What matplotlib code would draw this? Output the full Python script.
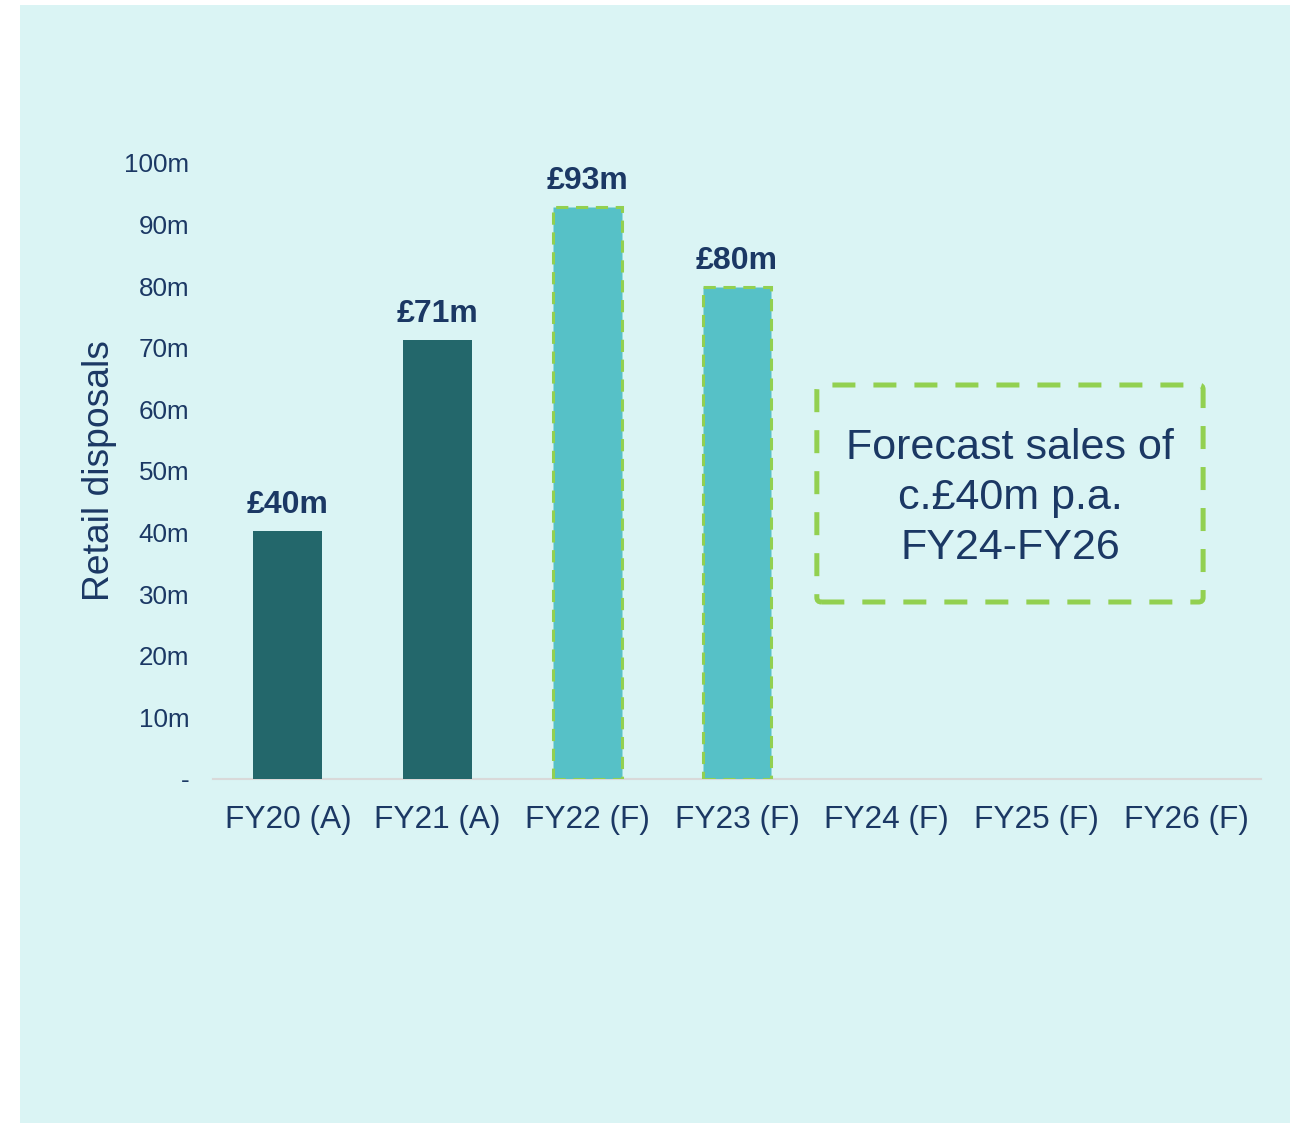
import matplotlib
matplotlib.use("Agg")
import matplotlib.pyplot as plt
from matplotlib.patches import Rectangle, FancyBboxPatch

categories = ["FY20 (A)", "FY21 (A)", "FY22 (F)", "FY23 (F)", "FY24 (F)", "FY25 (F)", "FY26 (F)"]
values = [40.3, 71.3, 92.9, 79.9, 0, 0, 0]
bar_labels = ["£40m", "£71m", "£93m", "£80m", "", "", ""]
forecast = [False, False, True, True, False, False, False]
yticks = [0, 10, 20, 30, 40, 50, 60, 70, 80, 90, 100]
ytick_labels = ["-", "10m", "20m", "30m", "40m", "50m", "60m", "70m", "80m", "90m", "100m"]
note = "Forecast sales of\nc.£40m p.a.\nFY24-FY26"

NAVY = "#1B3864"
DARK = "#23676B"
LIGHT = "#56C1C7"
GREEN = "#92D050"
BG = "#DAF4F4"

plt.rcParams['font.family'] = ['Liberation Sans', 'DejaVu Sans']

fig = plt.figure(figsize=(12.99, 11.23), dpi=100, facecolor="white")
fig.patches.append(Rectangle((20/1299, 0), 1270/1299, 1 - 5/1123, transform=fig.transFigure,
                             facecolor=BG, edgecolor="none", zorder=-10))

ax = fig.add_axes([213/1299, 1 - 779/1123, 1048/1299, 616/1123])
ax.set_facecolor("none")
ax.set_zorder(1)

x = list(range(len(categories)))
for i, (v, f) in enumerate(zip(values, forecast)):
    if v <= 0:
        continue
    if f:
        ax.bar(i, v, width=0.46, color=LIGHT, edgecolor=GREEN, linewidth=2.2,
               linestyle=(0, (4, 2.5)), zorder=3)
    else:
        ax.bar(i, v, width=0.46, color=DARK, edgecolor="none", zorder=3)
    ax.annotate(bar_labels[i], (i, v), xytext=(0, 7.5), textcoords="offset points",
                ha="center", va="bottom", fontsize=23, fontweight="bold", color=NAVY)

ax.set_xlim(-0.5, 6.5)
ax.set_ylim(0, 100)
ax.set_xticks(x)
ax.set_xticklabels(categories, fontsize=22.8, color=NAVY)
ax.set_yticks(yticks)
ax.set_yticklabels(ytick_labels, fontsize=18.7, color=NAVY)
ax.tick_params(axis="both", length=0)
ax.tick_params(axis="x", pad=19)
ax.tick_params(axis="y", pad=17)
for s in ["top", "right", "left"]:
    ax.spines[s].set_visible(False)
ax.spines["bottom"].set_color("#D9D9D9")
ax.spines["bottom"].set_linewidth(1.5)
ax.set_ylabel("Retail disposals", fontsize=26.8, color=NAVY, labelpad=5.5)

# forecast note box
x0 = (818 - 213) / 150 - 0.5
x1 = (1205 - 213) / 150 - 0.5
y1 = (779 - 385) / 6.16
y0 = (779 - 602) / 6.16
box = FancyBboxPatch((x0, y0), x1 - x0, y1 - y0, boxstyle="round,pad=0,rounding_size=0.03",
                     facecolor="none", edgecolor=GREEN, linewidth=3.6,
                     linestyle=(0, (4.6, 3.6)), zorder=4, clip_on=False,
                     mutation_aspect=150 / 6.16)
ax.add_patch(box)
ax.text((x0 + x1) / 2, (y0 + y1) / 2 - 0.7, note, ha="center", va="center",
        fontsize=31, color=NAVY, linespacing=1.32, zorder=5)

fig.savefig("out.png", dpi=100, facecolor="white")
